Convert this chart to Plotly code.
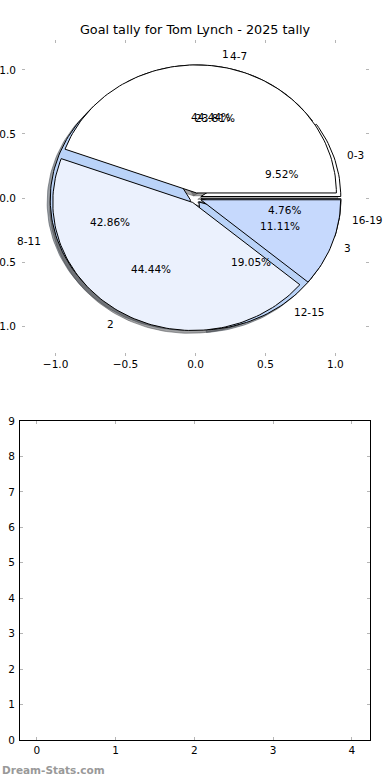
import numpy as np
import plotly.graph_objects as go

title = "Goal tally for Tom Lynch - 2025 tally"
quarter_labels = ["0-3", "4-7", "8-11", "12-15", "16-19"]
quarter_values = [2, 5, 9, 4, 1]
quarter_colors = ["#FFFFFF", "#FFFFFF", "#BAD3F8", "#BAD3F8", "#C6D9FD"]
goal_labels = ["1", "2", "3"]
goal_values = [4, 4, 1]
goal_colors = ["#FFFFFF", "#EBF1FD", "#C6D9FD"]
explode = 0.04
shadow_off = 0.022
bar_x_ticks = [0, 1, 2, 3, 4]
bar_y_ticks = list(range(10))
pie_ticks = [-1.0, -0.5, 0.0, 0.5, 1.0]

FONT = "DejaVu Sans"


def wedges(values):
    vals = np.asarray(values, dtype=float)
    frac = vals / vals.sum()
    ends = np.cumsum(frac) * 360.0
    starts = np.concatenate([[0.0], ends[:-1]])
    out = []
    for t1, t2, f in zip(starts, ends, frac):
        mid = np.deg2rad((t1 + t2) / 2)
        cx, cy = explode * np.cos(mid), explode * np.sin(mid)
        n = max(int((t2 - t1) / 1.5), 4)
        th = np.deg2rad(np.linspace(t1, t2, n))
        xs = np.concatenate([[cx], cx + np.cos(th), [cx]])
        ys = np.concatenate([[cy], cy + np.sin(th), [cy]])
        out.append(dict(xs=xs, ys=ys, mid=mid, cx=cx, cy=cy, frac=f))
    return out


def shade(hexc):
    h = hexc.lstrip("#")
    r, g, b = (int(h[i:i + 2], 16) for i in (0, 2, 4))
    return "rgba(%d,%d,%d,0.5)" % (r * 0.3, g * 0.3, b * 0.3)


fig = go.Figure()
annotations = []

pies = [
    (quarter_labels, quarter_values, quarter_colors),
    (goal_labels, goal_values, goal_colors),
]
all_w = [wedges(v) for _, v, _ in pies]

# shadows first
for (labels, values, colors), ws in zip(pies, all_w):
    for w, c in zip(ws, colors):
        fig.add_trace(go.Scatter(
            x=w["xs"] - shadow_off, y=w["ys"] - shadow_off, mode="lines",
            fill="toself", fillcolor=shade(c),
            line=dict(color=shade(c), width=1),
            hoverinfo="skip", showlegend=False, xaxis="x", yaxis="y"))

for (labels, values, colors), ws in zip(pies, all_w):
    for lab, w, c in zip(labels, ws, colors):
        fig.add_trace(go.Scatter(
            x=w["xs"], y=w["ys"], mode="lines", fill="toself", fillcolor=c,
            line=dict(color="black", width=1),
            hoverinfo="skip", showlegend=False, xaxis="x", yaxis="y"))
        lx = w["cx"] + 1.1 * np.cos(w["mid"])
        ly = w["cy"] + 1.1 * np.sin(w["mid"])
        left = lx > 0
        annotations.append(dict(
            x=lx, y=ly, xref="x", yref="y", text=lab, showarrow=False,
            xanchor="left" if left else "right", yanchor="middle",
            xshift=-3 if left else 0,
            font=dict(family=FONT, size=10.5, color="black")))
        px = w["cx"] + 0.6 * np.cos(w["mid"])
        py = w["cy"] + 0.6 * np.sin(w["mid"])
        annotations.append(dict(
            x=px, y=py, xref="x", yref="y", text="%.2f%%" % (w["frac"] * 100),
            showarrow=False, xanchor="center", yanchor="middle",
            font=dict(family=FONT, size=10.5, color="black")))

# empty lower axes
fig.add_trace(go.Scatter(x=[], y=[], xaxis="x2", yaxis="y2", showlegend=False))

annotations.append(dict(
    x=0, y=1 - 770 / 780, xref="paper", yref="paper", text="Dream-Stats.com",
    showarrow=False, xanchor="left", yanchor="middle",
    font=dict(family=FONT, size=10.5, color="#999999", weight="bold")))

tick_common = dict(ticks="inside", ticklen=3, tickwidth=1, tickcolor="#b5b5b5",
                   showgrid=False, zeroline=False, automargin=False,
                   tickfont=dict(family=FONT, size=10.5, color="black"))

fig.update_layout(
    width=390, height=780,
    margin=dict(l=0, r=0, t=0, b=0),
    paper_bgcolor="white", plot_bgcolor="white",
    title=dict(text=title, x=0.5, xanchor="center", y=1 - 30 / 780, yanchor="middle",
               font=dict(family=FONT, size=12.8, color="black")),
    xaxis=dict(domain=[22 / 390, 369 / 390], range=[-1.24, 1.24], anchor="y",
               tickvals=pie_ticks, tickformat=".1f", showline=False, mirror="ticks",
               **tick_common),
    yaxis=dict(domain=[1 - 356 / 780, 1 - 40 / 780], range=[-1.234, 1.234], anchor="x",
               tickvals=pie_ticks, tickformat=".1f", showline=False, mirror="ticks",
               ticklabelstandoff=5, **tick_common),
    xaxis2=dict(domain=[20 / 390, 370 / 390], range=[-0.215, 4.23], anchor="y2",
                tickvals=bar_x_ticks, showline=True, linecolor="black", linewidth=1,
                mirror="ticks", **tick_common),
    yaxis2=dict(domain=[1 - 740 / 780, 1 - 421 / 780], range=[0, 9], anchor="x2",
                tickvals=bar_y_ticks, showline=True, linecolor="black", linewidth=1,
                mirror="ticks", ticklabelstandoff=2, **tick_common),
    annotations=annotations,
)

fig.write_html(
    "out.html",
    config={"displayModeBar": False},
    post_script="document.body.style.margin='0';document.body.style.overflow='hidden';",
)
